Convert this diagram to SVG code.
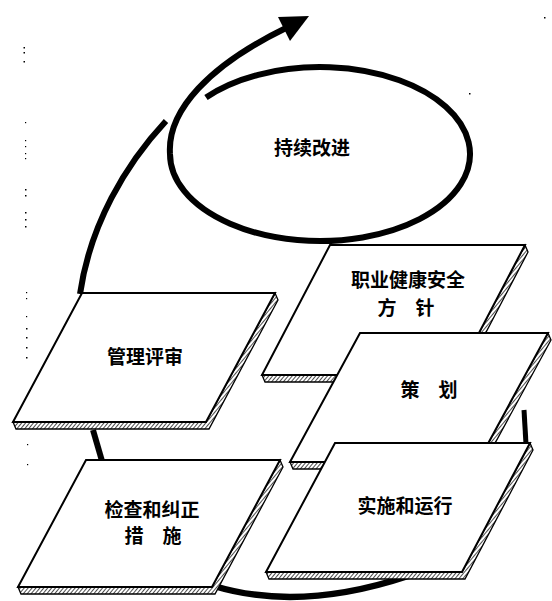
<svg xmlns="http://www.w3.org/2000/svg" width="552" height="601" viewBox="0 0 552 601">
<style>
.bg{fill:#fff}
.face{fill:#fff;stroke:#000;stroke-width:2;stroke-linejoin:miter}
.side{fill:url(#hatch);stroke:#000;stroke-width:1.3;stroke-linejoin:miter}
.thick{fill:none;stroke:#000;stroke-linecap:butt}
.lbl{font-family:"Noto Sans CJK SC","Noto Sans",sans-serif;font-size:19px;font-weight:bold;fill:#000;text-anchor:middle}
.speck{fill:#000}
</style>
<defs>
<pattern id="hatch" width="3" height="3" patternUnits="userSpaceOnUse" patternTransform="rotate(40)">
<rect width="3" height="3" fill="#fff"/>
<line x1="0" y1="0" x2="0" y2="3" stroke="#000" stroke-width="1.4"/>
</pattern>
</defs>
<rect class="bg" width="552" height="601"/>
<g id="specks">
<rect class="speck" x="23.5" y="47" width="1.5" height="1.5"/>
<rect class="speck" x="23.5" y="52" width="1.5" height="1.5"/>
<rect class="speck" x="23.5" y="61" width="1.5" height="1.5"/>
<rect class="speck" x="25" y="122" width="1.2" height="1.2"/>
<rect class="speck" x="25" y="140" width="1.2" height="1.2"/>
<rect class="speck" x="25" y="146" width="1.2" height="1.2"/>
<rect class="speck" x="25" y="153" width="1.2" height="1.2"/>
<rect class="speck" x="25" y="158" width="1.2" height="1.2"/>
<rect class="speck" x="25" y="189" width="1.5" height="1.5"/>
<rect class="speck" x="25" y="195" width="1.5" height="1.5"/>
<rect class="speck" x="25" y="212" width="1.5" height="1.5"/>
<rect class="speck" x="25" y="219" width="1.5" height="1.5"/>
<rect class="speck" x="25" y="226" width="1.5" height="1.5"/>
<rect class="speck" x="26" y="292" width="1.2" height="1.2"/>
<rect class="speck" x="26" y="298" width="1.2" height="1.2"/>
<rect class="speck" x="26" y="316" width="1.2" height="1.2"/>
<rect class="speck" x="26" y="328" width="1.5" height="1.5"/>
<rect class="speck" x="26" y="337" width="1.5" height="1.5"/>
<rect class="speck" x="26" y="347" width="1.5" height="1.5"/>
<rect class="speck" x="26" y="357" width="1.5" height="1.5"/>
<rect class="speck" x="27" y="444" width="1.2" height="1.2"/>
<rect class="speck" x="27" y="464" width="1.2" height="1.2"/>
<rect class="speck" x="469" y="93" width="1.5" height="1.5"/>
<rect class="speck" x="544" y="17" width="1.5" height="1.5"/>
</g>
<g id="connectors">
<path class="thick" stroke-width="6" d="M 80 294 C 90 225, 125 165, 166 121"/>
<path class="thick" stroke-width="6" d="M 170 154 C 167 110, 210 65, 286 28"/>
<polygon points="309,16 278,17 290,41" fill="#000"/>
<path class="thick" stroke-width="6" d="M 93 430 L 102 461"/>
<path class="thick" stroke-width="6.5" d="M 214 586 Q 300 612 408 576"/>
<path class="thick" stroke-width="5" d="M 524 410 L 526 444"/>
</g>
<g id="continuous-improvement">
<path class="thick" stroke-width="6" d="M 206 97.5 A 150 87 0 1 1 170 154"/>
<text class="lbl" x="312" y="155">持续改进</text>
</g>
<g id="management-review">
<polygon class="side" points="275,293 278,300 209,429 16,429 13,422 206,422"/>
<polygon class="face" points="82,293 275,293 206,422 13,422"/>
<text class="lbl" x="145" y="364">管理评审</text>
</g>
<g id="checking">
<polygon class="side" points="280,460 283,467 215,594 21,594 18,587 212,587"/>
<polygon class="face" points="86,460 280,460 212,587 18,587"/>
<text class="lbl" x="152" y="517">检查和纠正</text>
<text class="lbl" x="153" y="543">措　施</text>
</g>
<g id="policy">
<polygon class="side" points="525,245 528,252 460,382 265,382 262,375 457,375"/>
<polygon class="face" points="330,245 525,245 457,375 262,375"/>
<text class="lbl" x="408" y="287">职业健康安全</text>
<text class="lbl" x="406" y="315">方　针</text>
</g>
<g id="planning">
<polygon class="side" points="548,333 551,340 481,469 293,469 290,462 478,462"/>
<polygon class="face" points="360,333 548,333 478,462 290,462"/>
<text class="lbl" x="429" y="397">策　划</text>
</g>
<g id="implementation">
<polygon class="side" points="530,443 533,450 465,579 269,579 266,572 462,572"/>
<polygon class="face" points="335,443 530,443 462,572 266,572"/>
<text class="lbl" x="405" y="513">实施和运行</text>
</g>
</svg>
